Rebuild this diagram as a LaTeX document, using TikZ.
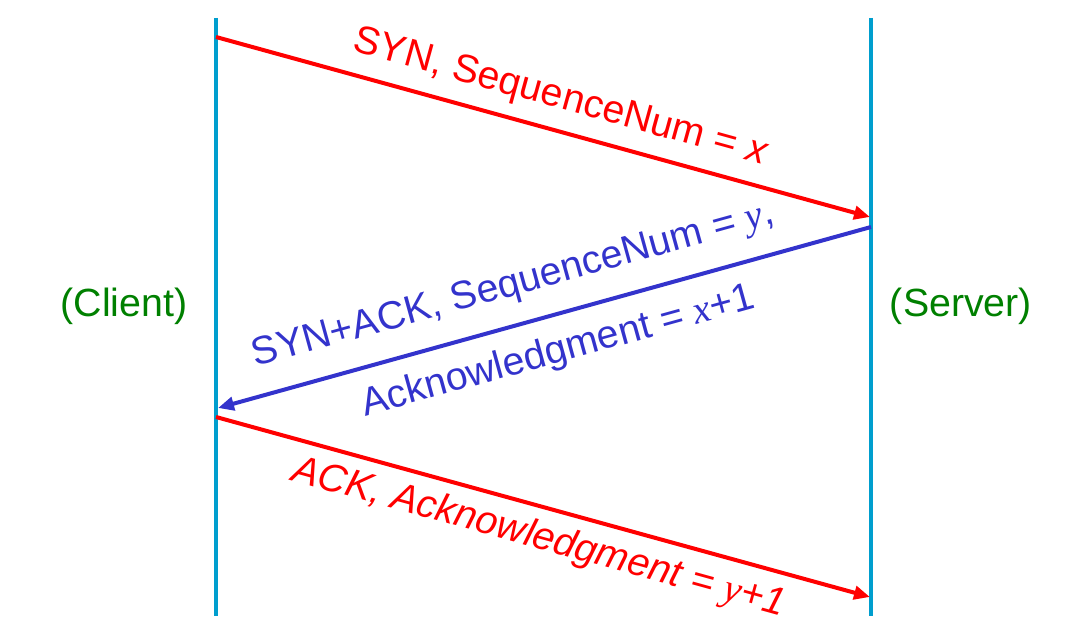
\documentclass[tikz,border=0pt]{standalone}
\usepackage{fontspec}
\setmainfont{Liberation Sans}
\newfontfamily\tms{Liberation Serif}
\usetikzlibrary{arrows.meta}
\definecolor{lifeline}{RGB}{0,158,206}
\definecolor{msgred}{RGB}{255,0,0}
\definecolor{msgblue}{RGB}{51,51,204}
\definecolor{lblgreen}{RGB}{0,128,0}
\tikzset{
  lifelinestyle/.style={draw=lifeline, line width=3pt},
  msg/.style={line width=3pt, -{Triangle[length=12pt,width=10pt]}},
  lbl/.style={font=\fontsize{29.5}{35}\selectfont, inner sep=0pt, anchor=base},
  side/.style={font=\fontsize{29.5}{35}\selectfont, text=lblgreen, inner sep=0pt},
}
\begin{document}
\begin{tikzpicture}[x=0.75pt,y=-0.75pt]
\useasboundingbox (0,0) rectangle (1076,634);
% lifelines
\coordinate (ctop) at (216,18);
\coordinate (cbot) at (216,616);
\coordinate (stop) at (871,18);
\coordinate (sbot) at (871,616);
\draw[lifelinestyle] (ctop) -- (cbot);
\draw[lifelinestyle] (stop) -- (sbot);
% message end points
\coordinate (m1s) at (216,37);
\coordinate (m1e) at (870,217);
\coordinate (m2s) at (871,227);
\coordinate (m2e) at (218,408);
\coordinate (m3s) at (216,417);
\coordinate (m3e) at (870,597);
\draw[msg, draw=msgred, fill=msgred] (m1s) -- (m1e);
\draw[msg, draw=msgblue, fill=msgblue] (m2s) -- (m2e);
\draw[msg, draw=msgred, fill=msgred] (m3s) -- (m3e);
% labels
\node[lbl, text=msgred, rotate=-15.45] (l1) at (558,108) {SYN, SequenceNum = \textit{x}};
\node[lbl, text=msgblue, rotate=15.45] (l2a) at (516,295) {SYN+ACK, SequenceNum = {\tms\itshape y},};
\node[lbl, text=msgblue, rotate=15.45] (l2b) at (561,362) {Acknowledgment = {\tms\itshape x}+1};
\node[lbl, text=msgred, rotate=-15.45] (l3) at (536,548) {\itshape ACK, Acknowledgment = {\tms y}+1};
\node[side] (client) at (124,306) {(Client)};
\node[side] (server) at (961,306) {(Server)};
\end{tikzpicture}
\end{document}
